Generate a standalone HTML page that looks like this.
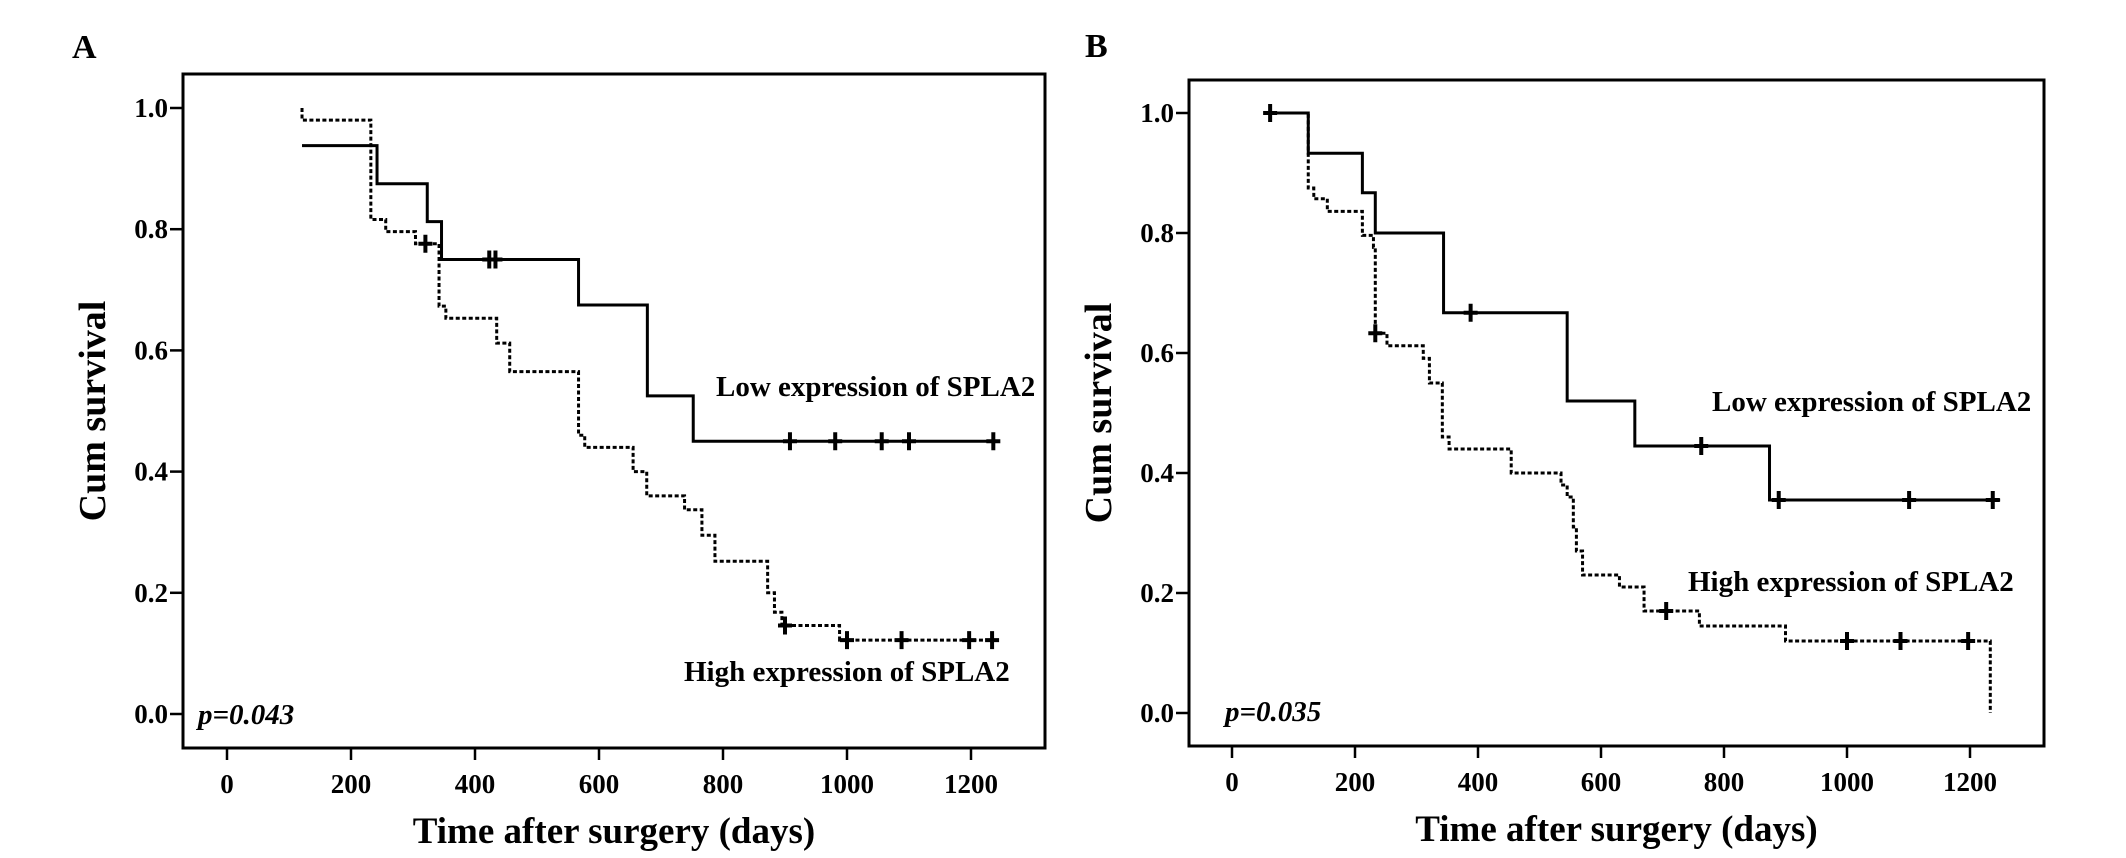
<!DOCTYPE html>
<html><head><meta charset="utf-8"><style>
html,body{margin:0;padding:0;background:#fff;}
svg{display:block;font-family:"Liberation Serif",serif;font-weight:bold;}
</style></head><body>
<svg id="fig" width="2126" height="858" viewBox="0 0 2126 858" xmlns="http://www.w3.org/2000/svg"></svg>
<script>
// Panel A data
const aLowTimes = [121, 242, 323, 346, 567, 678, 752, 1236];
const aLowSurv  = [0.938, 0.875, 0.8125, 0.75, 0.675, 0.525, 0.45, 0.45];
const aLowCens  = [423, 433, 908, 981, 1056, 1100, 1236];
const aLowCensS = [0.75, 0.75, 0.45, 0.45, 0.45, 0.45, 0.45];
const aHighTimes = [121, 232, 256, 304, 342, 353, 435, 456, 567, 577, 655, 677, 738, 766, 787, 872, 883, 895, 988, 1234];
const aHighSurv  = [0.98, 0.816, 0.796, 0.776, 0.673, 0.653, 0.612, 0.565, 0.46, 0.44, 0.40, 0.36, 0.337, 0.295, 0.252, 0.20, 0.168, 0.146, 0.122, 0.122];
const aHighCens  = [320, 900, 1000, 1088, 1197, 1234];
const aHighCensS = [0.776, 0.146, 0.122, 0.122, 0.122, 0.122];
// Panel B data
const bLowTimes = [62, 124, 212, 233, 344, 545, 655, 874, 1249];
const bLowSurv  = [1.0, 0.933, 0.867, 0.80, 0.667, 0.52, 0.445, 0.355, 0.355];
const bLowCens  = [62, 388, 763, 889, 1101, 1237];
const bLowCensS = [1.0, 0.667, 0.445, 0.355, 0.355, 0.355];
const bHighTimes = [62, 124, 133, 155, 212, 230, 233, 252, 311, 321, 342, 353, 454, 535, 545, 555, 560, 570, 630, 670, 760, 900, 1233];
const bHighSurv  = [1.0, 0.875, 0.857, 0.836, 0.796, 0.776, 0.633, 0.612, 0.591, 0.55, 0.46, 0.44, 0.40, 0.38, 0.36, 0.31, 0.27, 0.23, 0.21, 0.17, 0.145, 0.12, 0.0];
const bHighCens  = [233, 706, 1000, 1087, 1197];
const bHighCensS = [0.633, 0.17, 0.12, 0.12, 0.12];
const xTicks = [0, 200, 400, 600, 800, 1000, 1200];
const yTicks = [0.0, 0.2, 0.4, 0.6, 0.8, 1.0];

const NS = "http://www.w3.org/2000/svg";
const svg = document.getElementById('fig');
function mk(tag, attrs, parent, text){
  const e = document.createElementNS(NS, tag);
  for (const k in attrs) e.setAttribute(k, attrs[k]);
  if (text !== undefined) e.textContent = text;
  (parent||svg).appendChild(e);
  return e;
}

function panel(cfg){
  const g = mk('g', {});
  
  
  const X = d => cfg.x0 + d * cfg.kx;
  const Y = s => cfg.y0 - s * cfg.ky;
  const lbl = mk('text', {x: cfg.lx, y: cfg.ly, 'font-size': 34}, g, cfg.id);
  
  
  const fr = mk('rect', {x: cfg.L, y: cfg.T, width: cfg.R - cfg.L, height: cfg.B - cfg.T, fill: 'none', stroke: '#000', 'stroke-width': 3}, g);
  
  
  yTicks.forEach(v => {
    const y = Y(v);
    const t = mk('line', {x1: cfg.L - 13, x2: cfg.L, y1: y, y2: y, stroke: '#000', 'stroke-width': 2.5}, g);
    
    
    const tl = mk('text', {x: cfg.L - 15, y: y + 9, 'font-size': 27, 'text-anchor': 'end'}, g, v.toFixed(1));
    
    
  });
  xTicks.forEach(v => {
    const x = X(v);
    const t = mk('line', {x1: x, x2: x, y1: cfg.B, y2: cfg.B + 12, stroke: '#000', 'stroke-width': 2.5}, g);
    
    
    const tl = mk('text', {x: x, y: cfg.B + 45, 'font-size': 27, 'text-anchor': 'middle'}, g, String(v));
    
    
  });
  const xt = mk('text', {x: (cfg.L + cfg.R) / 2, y: cfg.B + 95, 'font-size': 37, 'text-anchor': 'middle'}, g, 'Time after surgery (days)');
  
  
  const yt = mk('text', {x: 0, y: 0, 'font-size': 38, 'text-anchor': 'middle', transform: 'translate(' + (cfg.L - 78) + ',' + ((cfg.T + cfg.B) / 2) + ') rotate(-90)'}, g, 'Cum survival');
  
  
  const pv = mk('text', {x: cfg.px, y: cfg.py, 'font-size': 29, 'font-style': 'italic'}, g, cfg.p);
  
  

  function curve(times, surv, start, dashed, name){
    let d = 'M' + X(times[0]) + ' ' + Y(start);
    for (let i = 0; i < times.length; i++){
      d += ' H' + X(times[i]) + ' V' + Y(surv[i]);
    }
    const p = mk('path', {d: d, fill: 'none', stroke: '#000', 'stroke-width': 3, 'stroke-dasharray': dashed ? '4 2.5' : 'none'}, g);
    
    
  }
  function cens(times, surv, name){
    times.forEach((t, i) => {
      const x = X(t), y = Y(surv[i]);
      const c = mk('path', {d: 'M' + x + ' ' + (y - 9) + ' V' + (y + 9) + ' M' + (x - 7) + ' ' + y + ' H' + (x + 7), stroke: '#000', 'stroke-width': 4, fill: 'none'}, g);
      
      
    });
  }
  curve(cfg.lowT, cfg.lowS, cfg.lowS[0], false, 'low-expression-curve');
  curve(cfg.highT, cfg.highS, cfg.highStart, true, 'high-expression-curve');
  cens(cfg.lowC, cfg.lowCS, 'low-censor-mark');
  cens(cfg.highC, cfg.highCS, 'high-censor-mark');
  const l1 = mk('text', {x: cfg.lowLx, y: cfg.lowLy, 'font-size': 29}, g, 'Low expression of SPLA2');
  
  
  const l2 = mk('text', {x: cfg.highLx, y: cfg.highLy, 'font-size': 29}, g, 'High expression of SPLA2');
  
  
}

panel({id: 'A', lx: 72, ly: 58, L: 183, R: 1045, T: 74, B: 748,
  x0: 227, kx: 0.62, y0: 714, ky: 606, p: 'p=0.043', px: 198, py: 724,
  lowT: aLowTimes, lowS: aLowSurv, lowC: aLowCens, lowCS: aLowCensS,
  highT: aHighTimes, highS: aHighSurv, highStart: 1.0, highC: aHighCens, highCS: aHighCensS,
  lowLx: 716, lowLy: 396, highLx: 684, highLy: 681});
panel({id: 'B', lx: 1085, ly: 57, L: 1189, R: 2044, T: 80, B: 746,
  x0: 1232, kx: 0.615, y0: 713, ky: 600, p: 'p=0.035', px: 1225, py: 721,
  lowT: bLowTimes, lowS: bLowSurv, lowC: bLowCens, lowCS: bLowCensS,
  highT: bHighTimes, highS: bHighSurv, highStart: 1.0, highC: bHighCens, highCS: bHighCensS,
  lowLx: 1712, lowLy: 411, highLx: 1688, highLy: 591});
</script>
</body></html>
